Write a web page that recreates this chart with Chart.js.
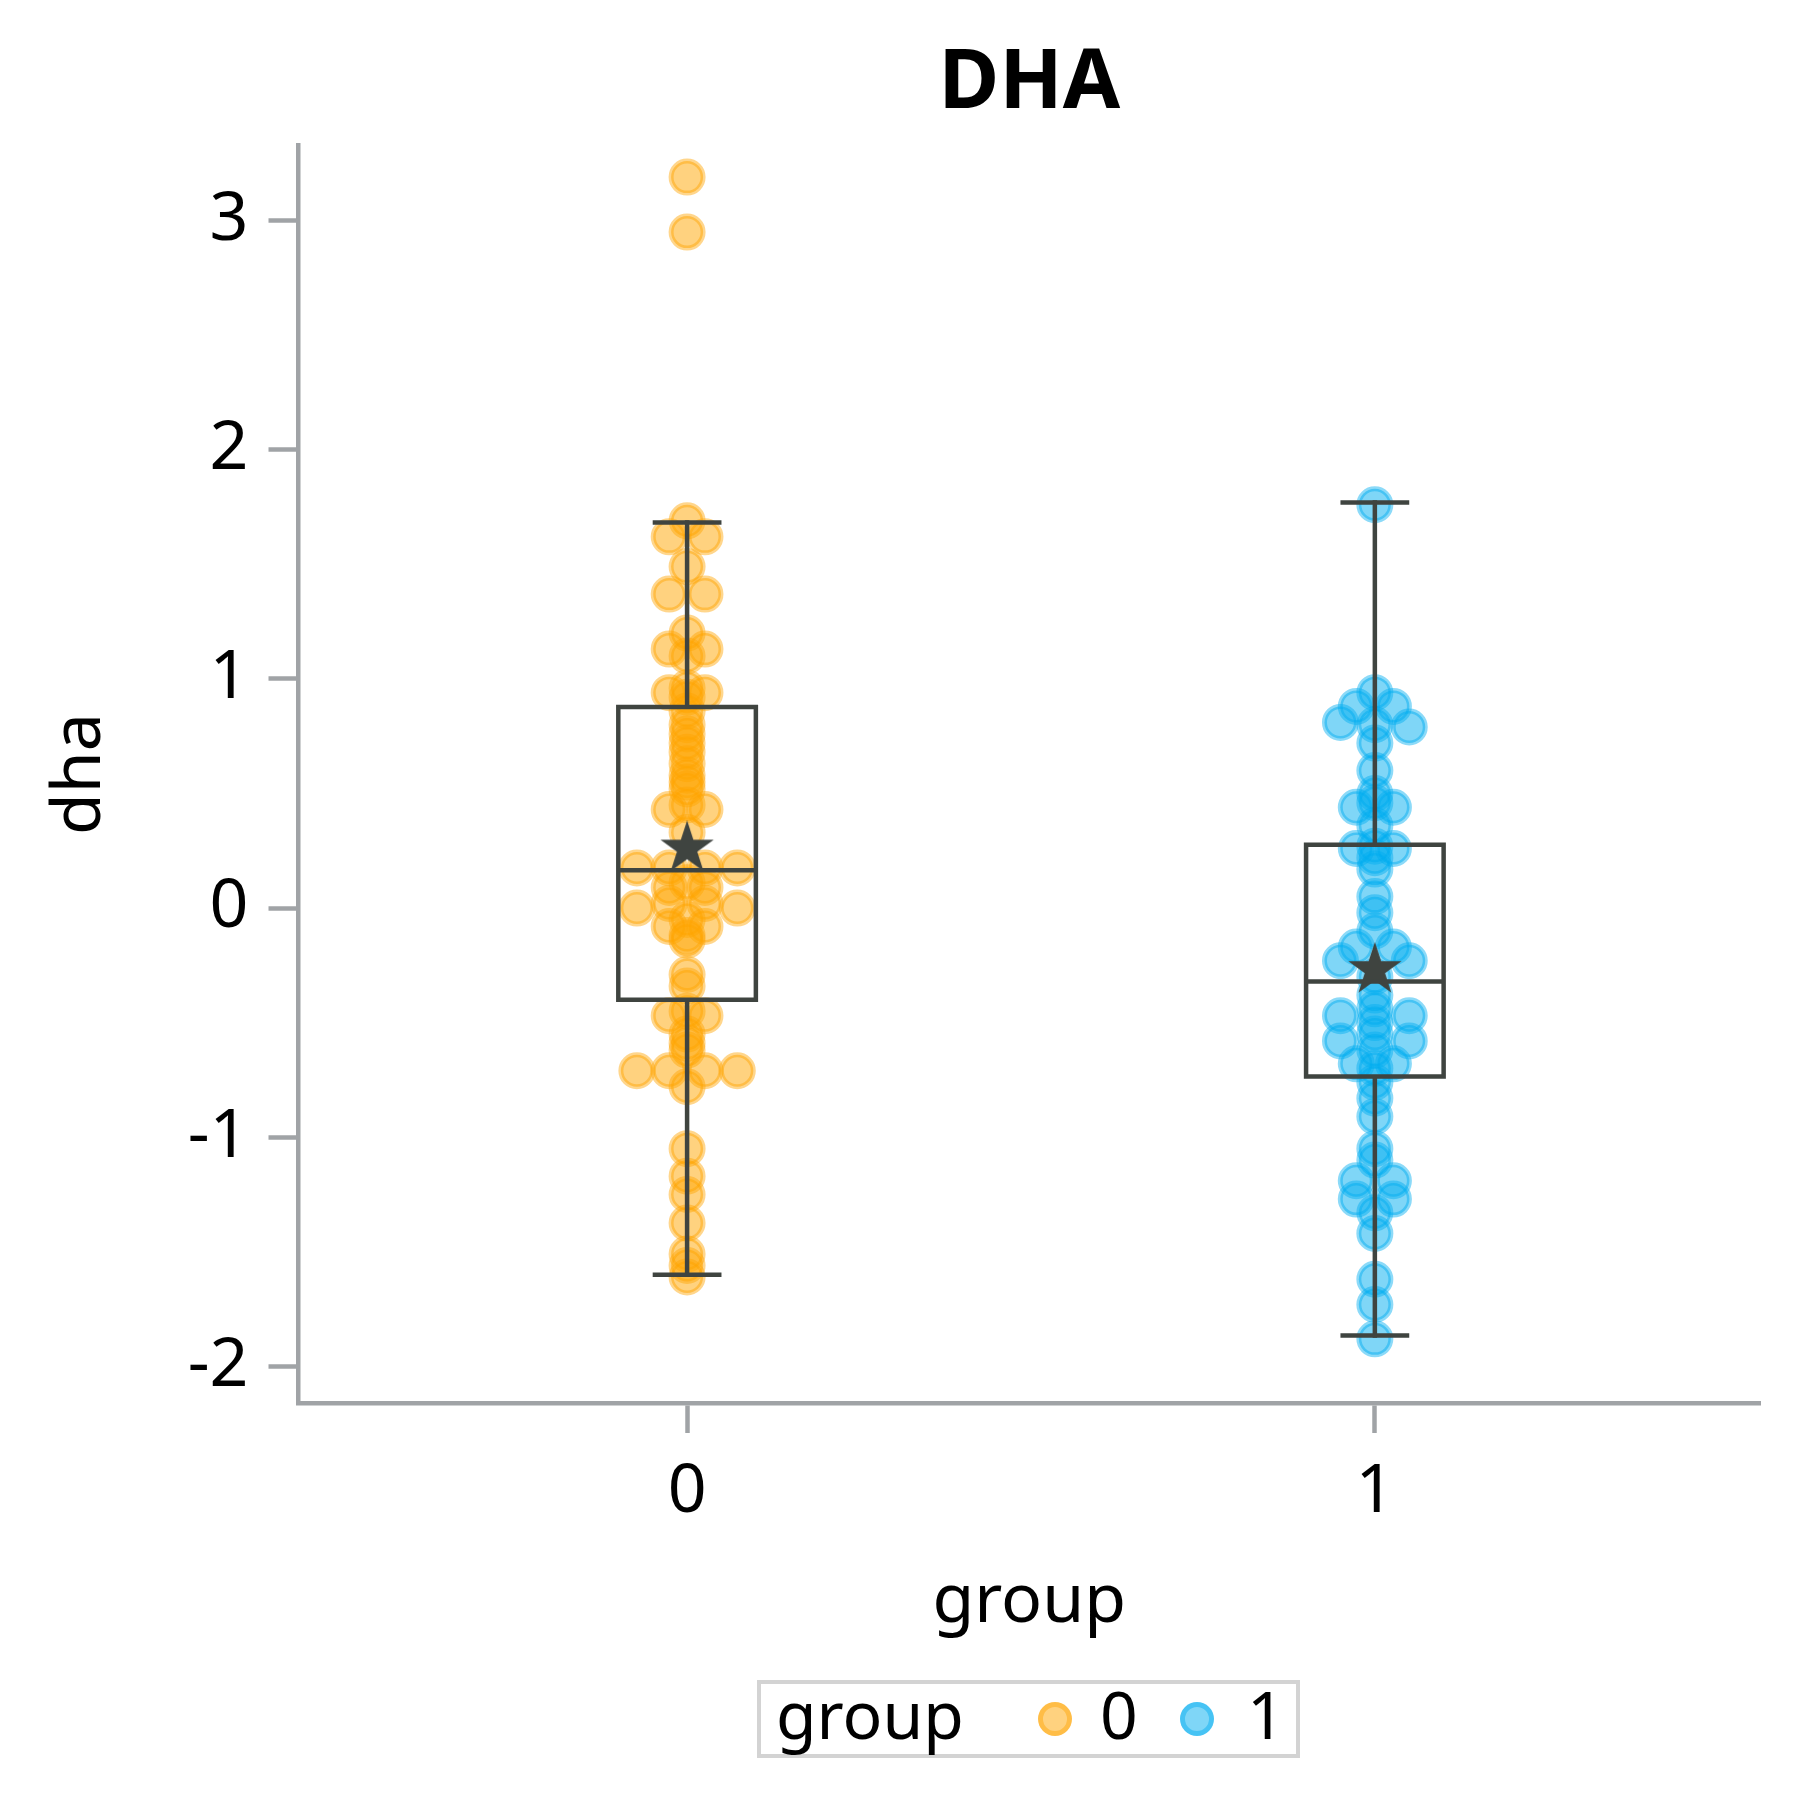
<!DOCTYPE html>
<html>
<head>
<meta charset="utf-8">
<script src="https://cdn.jsdelivr.net/npm/chart.js@4.4.1/dist/chart.umd.min.js"></script>
<style>
  html, body { margin: 0; padding: 0; background: #fff; }
  #wrap { position: relative; width: 1800px; height: 1800px; font-family: "Noto Sans", sans-serif; }
  #legendBox { position: absolute; left: 757px; top: 1680px; width: 543px; height: 78px;
               box-sizing: border-box; border: 4px solid #D3D3D3; }
  .lg-text { position: absolute; font-size: 66px; line-height: 70px; height: 70px; color: #000; white-space: nowrap; }
  .lg-dot { position: absolute; width: 34px; height: 34px; border-radius: 50%; box-sizing: border-box; }
</style>
</head>
<body>
<div id="wrap">
  <canvas id="chart" width="1800" height="1800"></canvas>
  <div id="legendBox"></div>
  <div class="lg-text" style="left:776px; top:1678px;">group</div>
  <div class="lg-dot" style="left:1038px; top:1702px; background:rgba(255,165,0,0.5); border:5px solid rgba(255,165,0,0.45);"></div>
  <div class="lg-text" style="left:1100px; top:1678px;">0</div>
  <div class="lg-dot" style="left:1180px; top:1702px; background:rgba(0,174,239,0.5); border:5px solid rgba(0,174,239,0.45);"></div>
  <div class="lg-text" style="left:1247px; top:1678px;">1</div>
</div>
<script>
/* ── Data ── */
const CATEGORIES = ['0', '1'];
const Y_TICKS = [-2, -1, 0, 1, 2, 3];

/* group 0: values and horizontal swarm offsets (category units) */
const GROUP0_VALUES = [
  3.19, 2.95, 1.69, 1.62, 1.62, 1.49, 1.37, 1.37, 1.20, 1.13, 1.13, 1.10,
  0.96, 0.94, 0.94, 0.92, 0.86, 0.80, 0.76, 0.72, 0.68, 0.63, 0.58, 0.55, 0.52,
  0.45, 0.43, 0.43, 0.33, 0.175, 0.175, 0.175, 0.175, 0.11, 0.09, 0.09,
  0.02, 0.02, 0.0, 0.0, -0.05, -0.08, -0.08, -0.12, -0.14, -0.29, -0.34,
  -0.45, -0.47, -0.47, -0.55, -0.59, -0.62, -0.71, -0.71, -0.71, -0.71, -0.78,
  -1.05, -1.17, -1.25, -1.375, -1.51, -1.56, -1.61
];
const GROUP0_OFFSETS = [
  0, 0, 0, -0.026, 0.026, 0, -0.026, 0.026, 0, -0.026, 0.026, 0,
  0, -0.026, 0.026, 0, 0, 0, 0, 0, 0, 0, 0, 0, 0,
  0, -0.026, 0.026, 0, -0.073, -0.026, 0.026, 0.073, 0, -0.026, 0.026,
  -0.026, 0.026, -0.073, 0.073, 0, -0.026, 0.026, 0, 0, 0, 0,
  0, -0.026, 0.026, 0, 0, 0, -0.073, -0.026, 0.026, 0.073, 0,
  0, 0, 0, 0, 0, 0, 0
];

/* group 1 */
const GROUP1_VALUES = [
  1.76, 0.94, 0.88, 0.88, 0.81, 0.79, 0.80, 0.72, 0.60, 0.50, 0.46, 0.44, 0.44,
  0.36, 0.27, 0.26, 0.26, 0.22, 0.17, 0.05, -0.02, -0.10, -0.17, -0.17,
  -0.23, -0.23, -0.30, -0.38, -0.44, -0.47, -0.47, -0.50, -0.55, -0.58, -0.58,
  -0.62, -0.68, -0.68, -0.70, -0.76, -0.83, -0.91, -1.05, -1.10,
  -1.19, -1.19, -1.27, -1.27, -1.33, -1.42, -1.62, -1.73, -1.88
];
const GROUP1_OFFSETS = [
  0, 0, -0.027, 0.027, -0.05, 0.05, 0, 0, 0, 0, 0, -0.027, 0.027,
  0, 0, -0.027, 0.027, 0, 0, 0, 0, 0, -0.027, 0.027,
  -0.05, 0.05, 0, 0, 0, -0.05, 0.05, 0, 0, -0.05, 0.05,
  0, -0.027, 0.027, 0, 0, 0, 0, 0, 0,
  -0.027, 0.027, -0.027, 0.027, 0, 0, 0, 0, 0
];

/* box summary per category: whisker low, q1, median, q3, whisker high, mean */
const WHISKER_LOW  = [-1.60, -1.865];
const Q1           = [-0.40, -0.735];
const MEDIAN       = [0.165, -0.32];
const Q3           = [0.877, 0.276];
const WHISKER_HIGH = [1.683, 1.77];
const MEANS        = [0.26, -0.27];

const FONT = '"Noto Sans", sans-serif';
const BOX_COLOR = '#3F4440';
const AXIS_COLOR = '#A0A3A6';
const BOX_WIDTH = 0.2;
const CAP_WIDTH = 0.1;

function toPoints(cat, values, offsets) {
  return values.map((v, i) => ({ x: cat + offsets[i], y: v }));
}

/* filled five-point star used for the mean marker */
function makeStar(R, color) {
  const c = document.createElement('canvas');
  c.width = 2 * R; c.height = 2 * R;
  const g = c.getContext('2d');
  g.beginPath();
  for (let i = 0; i < 10; i++) {
    const a = -Math.PI / 2 + i * Math.PI / 5;
    const rad = i % 2 ? R * 0.382 : R;
    g.lineTo(R + rad * Math.cos(a), R + rad * Math.sin(a));
  }
  g.closePath();
  g.fillStyle = color;
  g.fill();
  return c;
}

/* box + whiskers drawn with the chart's own scales */
const boxPlugin = {
  id: 'boxes',
  afterDatasetsDraw(chart) {
    const { ctx, scales: { x, y } } = chart;
    ctx.save();
    ctx.strokeStyle = BOX_COLOR;
    ctx.lineWidth = 4.5;
    CATEGORIES.forEach((_, i) => {
      const xl = x.getPixelForValue(i - BOX_WIDTH / 2);
      const xr = x.getPixelForValue(i + BOX_WIDTH / 2);
      const xc = x.getPixelForValue(i);
      const cl = x.getPixelForValue(i - CAP_WIDTH / 2);
      const cr = x.getPixelForValue(i + CAP_WIDTH / 2);
      const yq1 = y.getPixelForValue(Q1[i]);
      const yq3 = y.getPixelForValue(Q3[i]);
      const ymed = y.getPixelForValue(MEDIAN[i]);
      const ylo = y.getPixelForValue(WHISKER_LOW[i]);
      const yhi = y.getPixelForValue(WHISKER_HIGH[i]);
      ctx.lineCap = 'square';
      ctx.beginPath();
      ctx.rect(xl, yq3, xr - xl, yq1 - yq3);
      ctx.moveTo(xl, ymed); ctx.lineTo(xr, ymed);
      ctx.moveTo(xc, yq3); ctx.lineTo(xc, yhi);
      ctx.moveTo(xc, yq1); ctx.lineTo(xc, ylo);
      ctx.stroke();
      ctx.lineCap = 'butt';
      ctx.beginPath();
      ctx.moveTo(cl, yhi); ctx.lineTo(cr, yhi);
      ctx.moveTo(cl, ylo); ctx.lineTo(cr, ylo);
      ctx.stroke();
    });
    ctx.restore();
  }
};

const starImg = makeStar(28, BOX_COLOR);

new Chart(document.getElementById('chart'), {
  type: 'scatter',
  data: {
    datasets: [
      {
        label: 'mean',
        data: MEANS.map((m, i) => ({ x: i, y: m })),
        pointStyle: starImg,
        order: 0
      },
      {
        label: '0',
        data: toPoints(0, GROUP0_VALUES, GROUP0_OFFSETS),
        backgroundColor: 'rgba(255,165,0,0.5)',
        borderColor: 'rgba(255,165,0,0.45)',
        borderWidth: 5,
        pointRadius: 16,
        order: 2
      },
      {
        label: '1',
        data: toPoints(1, GROUP1_VALUES, GROUP1_OFFSETS),
        backgroundColor: 'rgba(0,174,239,0.5)',
        borderColor: 'rgba(0,174,239,0.45)',
        borderWidth: 5,
        pointRadius: 16,
        order: 1
      }
    ]
  },
  options: {
    responsive: false,
    animation: false,
    layout: { padding: { top: 0, left: 0, right: 40, bottom: 137 } },
    plugins: {
      legend: { display: false },
      tooltip: { enabled: false },
      title: {
        display: true,
        fullSize: false,
        text: 'DHA',
        color: '#000',
        font: { family: FONT, size: 83, weight: 'bold' },
        padding: { top: 35, bottom: 10.4 }
      }
    },
    scales: {
      x: {
        type: 'linear',
        min: -0.565,
        max: 1.56,
        afterBuildTicks: s => { s.ticks = CATEGORIES.map((c, i) => ({ value: i })); },
        afterFit: s => { s.height = 260; },
        ticks: {
          callback: v => CATEGORIES[v],
          color: '#000',
          font: { family: FONT, size: 68 },
          padding: 19
        },
        grid: { drawOnChartArea: false, tickLength: 30, tickWidth: 4.5, tickColor: AXIS_COLOR },
        border: { color: AXIS_COLOR, width: 4.5 },
        title: {
          display: true,
          text: 'group',
          color: '#000',
          font: { family: FONT, size: 68 },
          padding: { top: 0, bottom: 20 }
        }
      },
      y: {
        type: 'linear',
        min: -2.16,
        max: 3.33,
        afterBuildTicks: s => { s.ticks = Y_TICKS.map(v => ({ value: v })); },
        afterFit: s => { s.width = 298.5; },
        ticks: {
          callback: v => String(v),
          color: '#000',
          font: { family: FONT, size: 68 },
          padding: 20
        },
        grid: { drawOnChartArea: false, tickLength: 30, tickWidth: 4.5, tickColor: AXIS_COLOR },
        border: { color: AXIS_COLOR, width: 4.5 },
        title: {
          display: true,
          text: 'dha',
          color: '#000',
          font: { family: FONT, size: 68 },
          padding: { top: 40, bottom: 0 }
        }
      }
    }
  },
  plugins: [boxPlugin]
});
</script>
</body>
</html>
